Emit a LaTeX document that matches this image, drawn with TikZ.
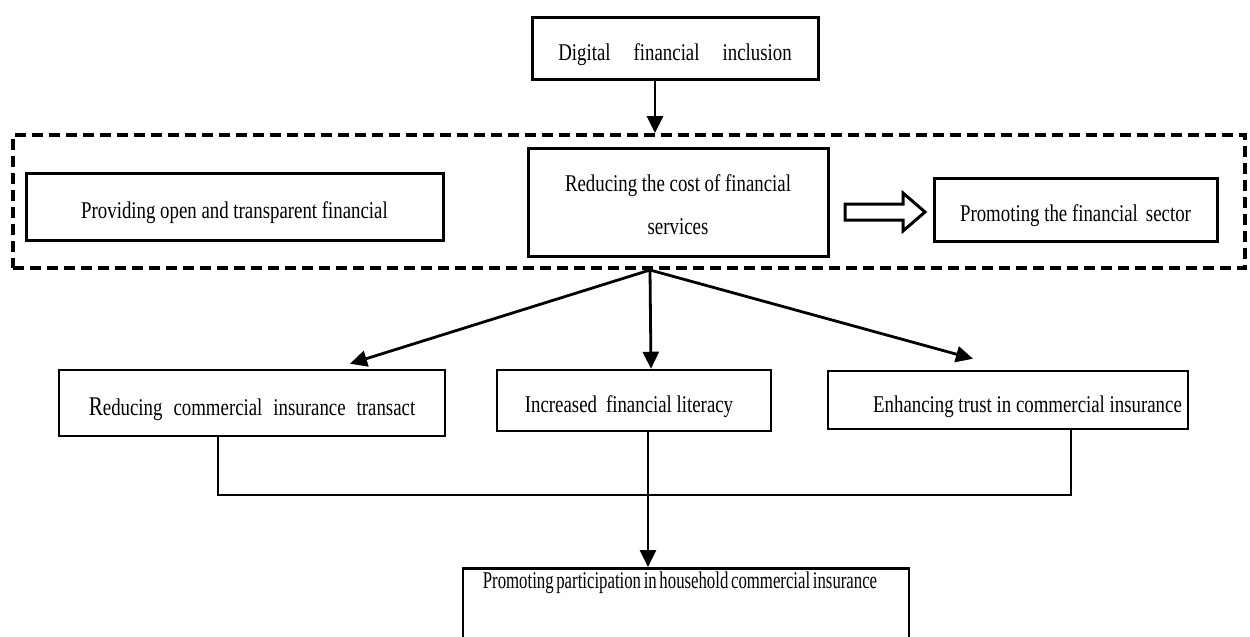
\documentclass[tikz,border=0pt]{standalone}
\usepackage{fontspec}
\setmainfont[FakeStretch=0.785]{Liberation Serif}
\usepackage{graphicx}
\usetikzlibrary{arrows.meta}
\tikzset{
  boxbase/.style={draw, line width=3pt, inner sep=0pt, font=\fontsize{24}{28}\selectfont, anchor=center},
  box/.style={boxbase, text height=24pt, text depth=0pt},
  arr/.style={line width=2.8pt, -{Triangle[length=17pt,width=16pt]}},
  link/.style={line width=2.5pt},
  dashbox/.style={draw, line width=4pt, dash pattern=on 11pt off 6pt, inner sep=0pt},
  hollow/.style={draw, line width=3pt, line join=miter},
}
\begin{document}
\begin{tikzpicture}[x=1pt,y=-1pt]
\useasboundingbox (0,0) rectangle (1250,637);
\clip (0,0) rectangle (1250,637);
\fill[white] (0,0) rectangle (1250,637);

\node[dashbox, minimum width=1232pt, minimum height=133pt] (dash) at (629,201.5) {};

\node[box, minimum width=286pt, minimum height=62pt] (top) at (675,48)
  {Digital\hspace{23pt}financial\hspace{23pt}inclusion};

\node[box, minimum width=417pt, minimum height=67pt] (prov) at (234.5,206.5)
  {Providing open and transparent financial};

\node[boxbase, minimum width=300pt, minimum height=108pt, align=center,
      font=\fontsize{24}{43}\selectfont] (cost) at (678,202)
  {\rule{0pt}{23pt}Reducing the cost of financial\\services};

\node[box, minimum width=283pt, minimum height=63pt] (sector) at (1075.5,209.5)
  {Promoting the financial\hspace{8pt}sector};

\node[box, line width=2.5pt, minimum width=386pt, minimum height=66pt] (trans) at (252,403)
  {{\fontsize{27}{27}\selectfont R}educing\hspace{11pt}commercial\hspace{11pt}insurance\hspace{11pt}transact};

\node[box, line width=2.5pt, minimum width=274pt, minimum height=61pt] (lit) at (634,400.5)
  {Increased\hspace{9pt}financial literacy\hspace*{10pt}};

\node[box, line width=2.5pt, minimum width=360pt, minimum height=58pt] (trust) at (1008,400)
  {\hspace*{39pt}Enhancing trust in commercial insurance};

\node[boxbase, line width=2.5pt, anchor=north, minimum width=446pt, text height=18pt,
      text depth=55pt, inner ysep=2pt] (bot) at (686,567)
  {\scalebox{0.89}[1]{Promoting\hspace{3pt}participation\hspace{3pt}in\hspace{3pt}household\hspace{3pt}commercial\hspace{3pt}insurance}\hspace*{12pt}};

\coordinate (hub) at ([xshift=21pt]dash.south);
\coordinate (bus) at (650,495);

\draw[arr] ([xshift=-20pt]top.south) -- ([xshift=-20pt]top.south |- dash.north);
\draw[arr] (hub) -- ([xshift=98pt,yshift=5pt]trans.north);
\draw[arr] (hub) -- ([xshift=17pt]lit.north);
\draw[arr] (hub) -- ([xshift=-35pt,yshift=11pt]trust.north);

\draw[link] ([xshift=-34pt]trans.south) |- (bus) -| ([xshift=63pt]trust.south);
\draw[arr] ([xshift=14pt]lit.south) -- ([xshift=14pt]lit.south |- bot.north);

\draw[hollow] (845,204) -- (903,204) -- (903,193) -- (925,212) -- (903,231)
  -- (903,220) -- (845,220) -- cycle;
\end{tikzpicture}
\end{document}
